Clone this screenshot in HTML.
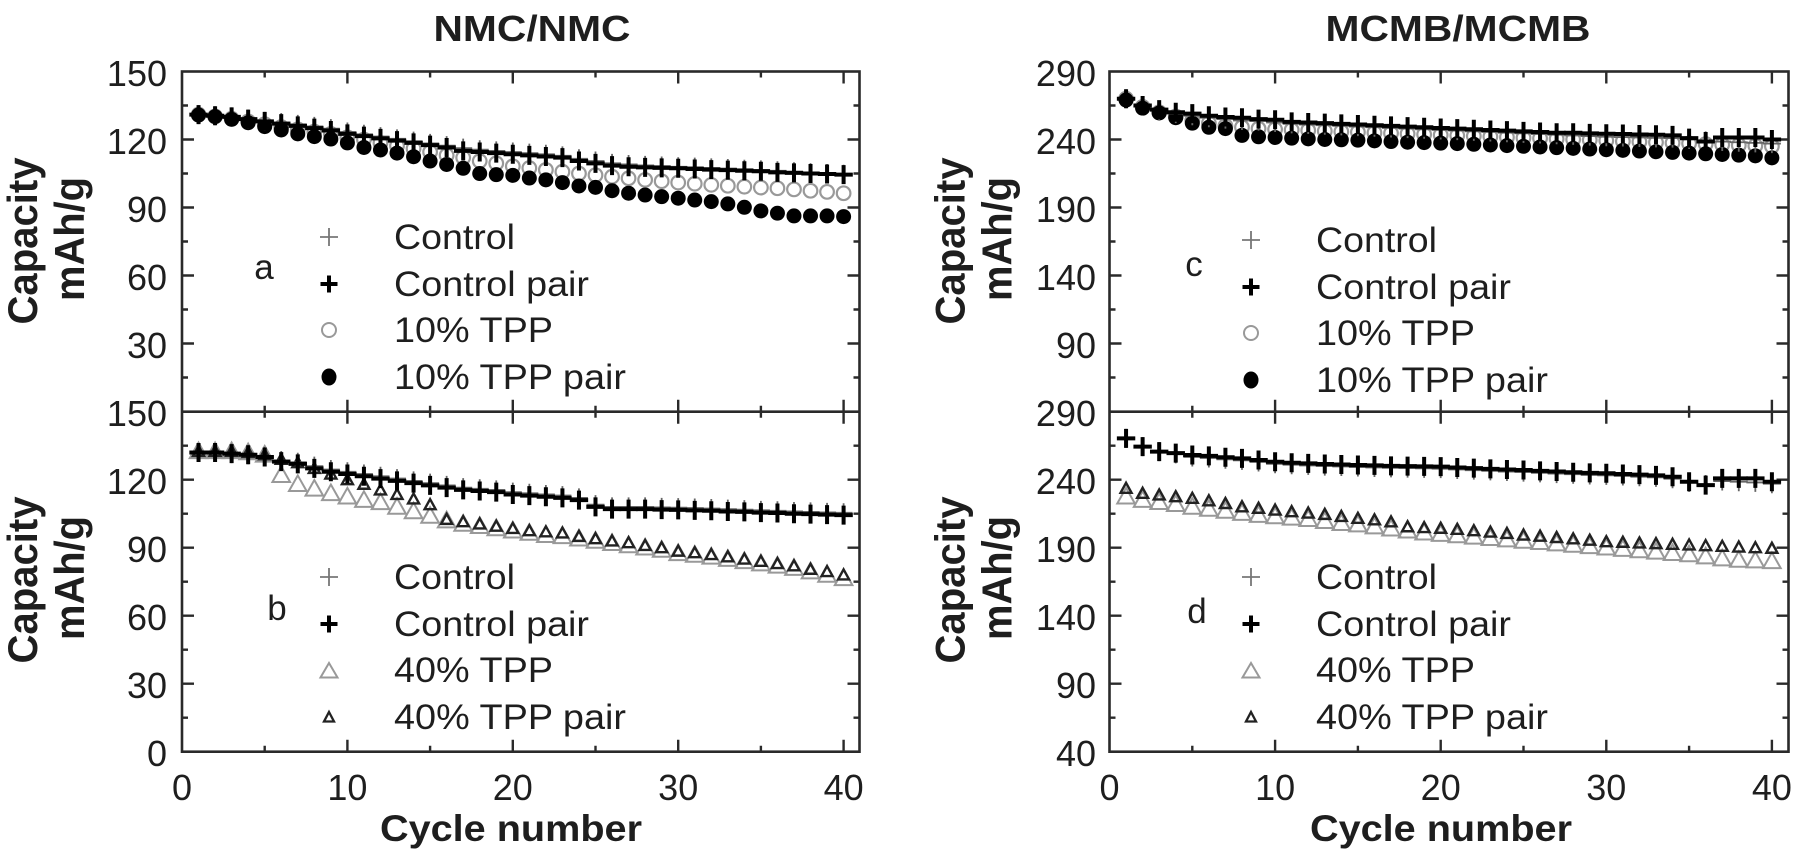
<!DOCTYPE html>
<html>
<head>
<meta charset="utf-8">
<style>
html,body{margin:0;padding:0;background:#fff;}
svg{display:block;}
text{font-family:"Liberation Sans",Arial,sans-serif;fill:#1e1e1e;}
</style>
</head>
<body>
<svg width="1800" height="854" viewBox="0 0 1800 854" xmlns="http://www.w3.org/2000/svg">
<defs>
  <!-- Left panels: sx=16.54, sy=2.267 -->
  <marker id="pbL" viewBox="0 0 20 20" refX="10" refY="10" markerUnits="userSpaceOnUse" markerWidth="1.2092" markerHeight="8.822" preserveAspectRatio="none" overflow="visible"><path d="M0.8 10H19.2M10 0.5V19.5" stroke="#000" stroke-width="4" fill="none"/></marker>
  <marker id="ptL" viewBox="0 0 20 20" refX="10" refY="10" markerUnits="userSpaceOnUse" markerWidth="1.2092" markerHeight="8.822" preserveAspectRatio="none" overflow="visible"><path d="M1 10H19M10 0.5V19.5" stroke="#666" stroke-width="1.8" fill="none"/></marker>
  <marker id="coL" viewBox="0 0 20 20" refX="10" refY="10" markerUnits="userSpaceOnUse" markerWidth="1.2092" markerHeight="8.822" preserveAspectRatio="none" overflow="visible"><circle cx="10" cy="10" r="6.8" stroke="#999" stroke-width="2.2" fill="none"/></marker>
  <marker id="cfL" viewBox="0 0 20 20" refX="10" refY="10" markerUnits="userSpaceOnUse" markerWidth="1.2092" markerHeight="8.822" preserveAspectRatio="none" overflow="visible"><circle cx="10" cy="10" r="7.5" fill="#000"/></marker>
  <marker id="toL" viewBox="0 0 20 20" refX="10" refY="10" markerUnits="userSpaceOnUse" markerWidth="1.2092" markerHeight="8.822" preserveAspectRatio="none" overflow="visible"><polygon points="10,1.2 18.8,16.8 1.2,16.8" stroke="#999" stroke-width="2" fill="none"/></marker>
  <marker id="tpL" viewBox="0 0 20 20" refX="10" refY="10" markerUnits="userSpaceOnUse" markerWidth="1.2092" markerHeight="8.822" preserveAspectRatio="none" overflow="visible"><polygon points="10,4.5 15.5,14.5 4.5,14.5" stroke="#222" stroke-width="2.4" fill="none"/></marker>
  <!-- Right panels: sx=16.56, sy=1.36 -->
  <marker id="pbR" viewBox="0 0 20 20" refX="10" refY="10" markerUnits="userSpaceOnUse" markerWidth="1.2077" markerHeight="14.706" preserveAspectRatio="none" overflow="visible"><path d="M0.8 10H19.2M10 0.5V19.5" stroke="#000" stroke-width="4" fill="none"/></marker>
  <marker id="ptR" viewBox="0 0 20 20" refX="10" refY="10" markerUnits="userSpaceOnUse" markerWidth="1.2077" markerHeight="14.706" preserveAspectRatio="none" overflow="visible"><path d="M1 10H19M10 0.5V19.5" stroke="#666" stroke-width="1.8" fill="none"/></marker>
  <marker id="coR" viewBox="0 0 20 20" refX="10" refY="10" markerUnits="userSpaceOnUse" markerWidth="1.2077" markerHeight="14.706" preserveAspectRatio="none" overflow="visible"><circle cx="10" cy="10" r="6.8" stroke="#999" stroke-width="2.2" fill="none"/></marker>
  <marker id="cfR" viewBox="0 0 20 20" refX="10" refY="10" markerUnits="userSpaceOnUse" markerWidth="1.2077" markerHeight="14.706" preserveAspectRatio="none" overflow="visible"><circle cx="10" cy="10" r="7.5" fill="#000"/></marker>
  <marker id="toR" viewBox="0 0 20 20" refX="10" refY="10" markerUnits="userSpaceOnUse" markerWidth="1.2077" markerHeight="14.706" preserveAspectRatio="none" overflow="visible"><polygon points="10,1.2 18.8,16.8 1.2,16.8" stroke="#999" stroke-width="2" fill="none"/></marker>
  <marker id="tpR" viewBox="0 0 20 20" refX="10" refY="10" markerUnits="userSpaceOnUse" markerWidth="1.2077" markerHeight="14.706" preserveAspectRatio="none" overflow="visible"><polygon points="10,4.5 15.5,14.5 4.5,14.5" stroke="#222" stroke-width="2.4" fill="none"/></marker>
</defs>

<rect x="0" y="0" width="1800" height="854" fill="#fff"/>

<!-- Titles -->
<text x="532" y="41" text-anchor="middle" font-weight="bold" font-size="36" textLength="197" lengthAdjust="spacingAndGlyphs">NMC/NMC</text>
<text x="1458" y="41" text-anchor="middle" font-weight="bold" font-size="36" textLength="265" lengthAdjust="spacingAndGlyphs">MCMB/MCMB</text>

<!-- Y axis titles -->
<text transform="translate(37,241) rotate(-90)" text-anchor="middle" font-weight="bold" font-size="42" textLength="167" lengthAdjust="spacingAndGlyphs">Capacity</text>
<text transform="translate(84,239) rotate(-90)" text-anchor="middle" font-weight="bold" font-size="42" textLength="124" lengthAdjust="spacingAndGlyphs">mAh/g</text>
<text transform="translate(37,580) rotate(-90)" text-anchor="middle" font-weight="bold" font-size="42" textLength="167" lengthAdjust="spacingAndGlyphs">Capacity</text>
<text transform="translate(84,578) rotate(-90)" text-anchor="middle" font-weight="bold" font-size="42" textLength="124" lengthAdjust="spacingAndGlyphs">mAh/g</text>
<text transform="translate(964.5,241) rotate(-90)" text-anchor="middle" font-weight="bold" font-size="42" textLength="167" lengthAdjust="spacingAndGlyphs">Capacity</text>
<text transform="translate(1011.5,239) rotate(-90)" text-anchor="middle" font-weight="bold" font-size="42" textLength="124" lengthAdjust="spacingAndGlyphs">mAh/g</text>
<text transform="translate(964.5,580) rotate(-90)" text-anchor="middle" font-weight="bold" font-size="42" textLength="167" lengthAdjust="spacingAndGlyphs">Capacity</text>
<text transform="translate(1011.5,578) rotate(-90)" text-anchor="middle" font-weight="bold" font-size="42" textLength="124" lengthAdjust="spacingAndGlyphs">mAh/g</text>

<!-- X axis titles -->
<text x="511" y="841" text-anchor="middle" font-weight="bold" font-size="37" textLength="262" lengthAdjust="spacingAndGlyphs">Cycle number</text>
<text x="1441" y="841" text-anchor="middle" font-weight="bold" font-size="37" textLength="262" lengthAdjust="spacingAndGlyphs">Cycle number</text>

<!-- Y tick labels left -->
<g font-size="36" text-anchor="end">
  <text x="167" y="86">150</text>
  <text x="167" y="154">120</text>
  <text x="167" y="222">90</text>
  <text x="167" y="290">60</text>
  <text x="167" y="358">30</text>
  <text x="167" y="426">150</text>
  <text x="167" y="494">120</text>
  <text x="167" y="562">90</text>
  <text x="167" y="630">60</text>
  <text x="167" y="698">30</text>
  <text x="167" y="766">0</text>
</g>
<!-- Y tick labels right -->
<g font-size="36" text-anchor="end">
  <text x="1096" y="86">290</text>
  <text x="1096" y="154">240</text>
  <text x="1096" y="222">190</text>
  <text x="1096" y="290">140</text>
  <text x="1096" y="358">90</text>
  <text x="1096" y="426">290</text>
  <text x="1096" y="494">240</text>
  <text x="1096" y="562">190</text>
  <text x="1096" y="630">140</text>
  <text x="1096" y="698">90</text>
  <text x="1096" y="766">40</text>
</g>
<!-- X tick labels -->
<g font-size="36" text-anchor="middle">
  <text x="182" y="800">0</text>
  <text x="347.4" y="800">10</text>
  <text x="512.8" y="800">20</text>
  <text x="678.2" y="800">30</text>
  <text x="843.6" y="800">40</text>
  <text x="1109.5" y="800">0</text>
  <text x="1275.1" y="800">10</text>
  <text x="1440.7" y="800">20</text>
  <text x="1606.3" y="800">30</text>
  <text x="1771.9" y="800">40</text>
</g>

<!-- Frames -->
<g stroke="#2a2a2a" stroke-width="2.6" fill="none">
  <rect x="182" y="71.5" width="677.5" height="680.2"/>
  <line x1="182" y1="411.7" x2="859.5" y2="411.7"/>
  <rect x="1109.5" y="71.5" width="679" height="680.2"/>
  <line x1="1109.5" y1="411.7" x2="1788.5" y2="411.7"/>
</g>

<!-- Ticks -->
<g stroke="#2a2a2a" stroke-width="2.4" fill="none">
  <path d="M264.7 71.5v6M264.7 405.7v12M264.7 751.7v-6
           M430.1 71.5v6M430.1 405.7v12M430.1 751.7v-6
           M595.5 71.5v6M595.5 405.7v12M595.5 751.7v-6
           M760.9 71.5v6M760.9 405.7v12M760.9 751.7v-6
           M347.4 71.5v12M347.4 399.7v24M347.4 751.7v-12
           M512.8 71.5v12M512.8 399.7v24M512.8 751.7v-12
           M678.2 71.5v12M678.2 399.7v24M678.2 751.7v-12
           M843.6 71.5v12M843.6 399.7v24M843.6 751.7v-12"/>
  <path d="M1192.3 71.5v6M1192.3 405.7v12M1192.3 751.7v-6
           M1357.9 71.5v6M1357.9 405.7v12M1357.9 751.7v-6
           M1523.5 71.5v6M1523.5 405.7v12M1523.5 751.7v-6
           M1689.1 71.5v6M1689.1 405.7v12M1689.1 751.7v-6
           M1275.1 71.5v12M1275.1 399.7v24M1275.1 751.7v-12
           M1440.7 71.5v12M1440.7 399.7v24M1440.7 751.7v-12
           M1606.3 71.5v12M1606.3 399.7v24M1606.3 751.7v-12
           M1771.9 71.5v12M1771.9 399.7v24M1771.9 751.7v-12"/>
  <path d="M182 139.5h12M182 207.5h12M182 275.5h12M182 343.5h12
           M182 105.5h6M182 173.5h6M182 241.5h6M182 309.5h6M182 377.5h6
           M182 479.7h12M182 547.7h12M182 615.7h12M182 683.7h12
           M182 445.7h6M182 513.7h6M182 581.7h6M182 649.7h6M182 717.7h6
           M859.5 139.5h-12M859.5 207.5h-12M859.5 275.5h-12M859.5 343.5h-12
           M859.5 105.5h-6M859.5 173.5h-6M859.5 241.5h-6M859.5 309.5h-6M859.5 377.5h-6
           M859.5 479.7h-12M859.5 547.7h-12M859.5 615.7h-12M859.5 683.7h-12
           M859.5 445.7h-6M859.5 513.7h-6M859.5 581.7h-6M859.5 649.7h-6M859.5 717.7h-6"/>
  <path d="M1109.5 139.5h12M1109.5 207.5h12M1109.5 275.5h12M1109.5 343.5h12
           M1109.5 105.5h6M1109.5 173.5h6M1109.5 241.5h6M1109.5 309.5h6M1109.5 377.5h6
           M1109.5 479.7h12M1109.5 547.7h12M1109.5 615.7h12M1109.5 683.7h12
           M1109.5 445.7h6M1109.5 513.7h6M1109.5 581.7h6M1109.5 649.7h6M1109.5 717.7h6
           M1788.5 139.5h-12M1788.5 207.5h-12M1788.5 275.5h-12M1788.5 343.5h-12
           M1788.5 105.5h-6M1788.5 173.5h-6M1788.5 241.5h-6M1788.5 309.5h-6M1788.5 377.5h-6
           M1788.5 479.7h-12M1788.5 547.7h-12M1788.5 615.7h-12M1788.5 683.7h-12
           M1788.5 445.7h-6M1788.5 513.7h-6M1788.5 581.7h-6M1788.5 649.7h-6M1788.5 717.7h-6"/>
</g>

<!-- Panel a data -->
<g transform="translate(182,71.5) scale(16.54,2.267)" fill="none" stroke="none">
  <polyline marker-start="url(#coL)" marker-mid="url(#coL)" marker-end="url(#coL)" points="1,19 2,19.8 3,20.8 4,22 5,23.2 6,24.5 7,25.5 8,26.5 9,27.5 10,29 11,30 12,31.5 13,32.8 14,34 15,35.5 16,37 17,38 18,39.5 19,40.5 20,41.8 21,42.6 22,43.4 23,44.2 24,45 25,45.7 26,46.4 27,47.1 28,47.8 29,48.4 30,49 31,49.5 32,50 33,50.4 34,50.8 35,51.2 36,51.5 37,52 38,52.6 39,53.1 40,53.7"/>
  <polyline marker-start="url(#cfL)" marker-mid="url(#cfL)" marker-end="url(#cfL)" points="1,19.2 2,19.9 3,21.1 4,22.6 5,24.3 6,25.8 7,27.5 8,28.7 9,29.8 10,31.5 11,33.5 12,34.6 13,36 14,37.6 15,39.5 16,41 17,42.7 18,45 19,45.5 20,45.8 21,47 22,47.8 23,49 24,50.5 25,51.1 26,52.6 27,53.7 28,54.5 29,55.2 30,55.9 31,56.7 32,57.4 33,58.4 34,59.9 35,61.5 36,62.5 37,63.7 38,63.7 39,63.7 40,64"/>
  <polyline marker-start="url(#ptL)" marker-mid="url(#ptL)" marker-end="url(#ptL)" points="1,19 2,19.5 3,20 4,21 5,22 6,22.5 7,23.3 8,24.2 9,25.2 10,26.7 11,27.7 12,28.7 13,29.7 14,30.7 15,31.7 16,32.7 17,33.8 18,34.5 19,35 20,35.5 21,36 22,36.5 23,37.2 24,38.5 25,39.5 26,40.5 27,41 28,41.4 29,41.7 30,42 31,42.2 32,42.5 33,42.8 34,43.1 35,43.4 36,43.8 37,44.2 38,44.6 39,45 40,45.3"/>
  <polyline marker-start="url(#pbL)" marker-mid="url(#pbL)" marker-end="url(#pbL)" points="1,19 2,19.5 3,20 4,21 5,22 6,23 7,24 8,25 9,26 10,27.5 11,28.5 12,29.5 13,30.5 14,31.5 15,32.5 16,33.5 17,35 18,35.5 19,36 20,36.5 21,37 22,37.5 23,38 24,39.5 25,40.5 26,41.5 27,42 28,42.3 29,42.5 30,42.7 31,43 32,43.3 33,43.5 34,43.8 35,44 36,44.5 37,44.7 38,45 39,45.2 40,45.5"/>
</g>

<!-- Panel b data -->
<g transform="translate(182,411.7) scale(16.54,2.267)" fill="none" stroke="none">
  <polyline marker-start="url(#toL)" marker-mid="url(#toL)" marker-end="url(#toL)" points="1,17.5 2,17.5 3,17.5 4,18 5,19 6,28 7,32 8,34 9,36 10,37.5 11,39 12,40 13,42 14,44 15,46 16,48 17,49.5 18,50.5 19,51.5 20,52.5 21,53.5 22,54.5 23,55 24,56 25,57 26,58 27,59 28,60 29,61 30,62.5 31,63.2 32,64 33,65 34,66 35,67 36,68 37,69 38,70.5 39,72 40,73.5"/>
  <polyline marker-start="url(#tpL)" marker-mid="url(#tpL)" marker-end="url(#tpL)" points="1,17.5 2,17.5 3,17.5 4,18 5,19 6,21 7,22.5 8,25 9,27.5 10,30 11,32 12,34.5 13,36.5 14,38.5 15,41 16,47.5 17,48.5 18,49.5 19,50.5 20,51.5 21,52.5 22,53 23,53.5 24,55 25,56 26,57 27,57.8 28,59 29,60 30,61.5 31,62.2 32,63 33,64 34,65 35,66 36,67 37,68 38,69.5 39,70.5 40,72"/>
  <polyline marker-start="url(#ptL)" marker-mid="url(#ptL)" marker-end="url(#ptL)" points="1,18 2,18 3,18.5 4,19 5,20 6,21.5 7,22.3 8,24 9,25.5 10,26.5 11,27.5 12,28.5 13,29.5 14,30.5 15,31.5 16,32.5 17,33.5 18,34 19,34.5 20,35.5 21,36 22,36.5 23,37 24,38 25,41 26,42 27,42 28,42 29,42.2 30,42.3 31,42.5 32,42.7 33,43 34,43.2 35,43.5 36,43.7 37,44 38,44.2 39,44.4 40,44.6"/>
  <polyline marker-start="url(#pbL)" marker-mid="url(#pbL)" marker-end="url(#pbL)" points="1,18 2,18 3,18.5 4,19 5,20 6,22 7,23 8,25 9,26.5 10,27.5 11,28.5 12,29.5 13,30.5 14,31.5 15,32.5 16,33.5 17,34.5 18,35 19,35.5 20,36.5 21,37 22,37.5 23,38 24,39 25,42 26,43 27,43 28,43 29,43.2 30,43.3 31,43.5 32,43.7 33,44 34,44.2 35,44.5 36,44.7 37,45 38,45.2 39,45.4 40,45.6"/>
</g>

<!-- Panel c data -->
<g transform="translate(1109.5,71.5) scale(16.56,1.36)" fill="none" stroke="none">
  <polyline marker-start="url(#coR)" marker-mid="url(#coR)" marker-end="url(#coR)" points="1,20 2,26 3,30 4,33 5,36 6,38 7,40 8,41 9,42 10,42.5 11,42.9 12,43.3 13,43.8 14,44.2 15,44.6 16,45 17,45.4 18,45.8 19,46.3 20,46.7 21,47.1 22,47.5 23,47.9 24,48.3 25,48.8 26,49.2 27,49.6 28,50 29,50.4 30,50.8 31,51.3 32,51.7 33,52.1 34,52.5 35,52.9 36,53.3 37,53.8 38,54.2 39,54.6 40,55"/>
  <polyline marker-start="url(#cfR)" marker-mid="url(#cfR)" marker-end="url(#cfR)" points="1,21 2,27 3,30.5 4,34 5,38 6,41 7,42 8,47 9,48 10,48.5 11,49 12,49.5 13,50 14,50.2 15,50.5 16,51 17,51.5 18,52 19,52.3 20,52.7 21,53 22,53.5 23,54 24,54.5 25,55 26,55.5 27,56 28,56.5 29,57 30,57.5 31,58 32,58.5 33,59 34,59.5 35,60 36,60.5 37,61 38,61.5 39,62 40,63.5"/>
  <polyline marker-start="url(#ptR)" marker-mid="url(#ptR)" marker-end="url(#ptR)" points="1,20 2,25.5 3,28.5 4,31 5,32.5 6,34 7,35 8,36 9,36.5 10,37.5 11,38.5 12,39 13,39.5 14,40 15,40.5 16,41 17,41.5 18,42 19,42.5 20,43 21,43.5 22,44 23,44.5 24,45 25,45.5 26,46 27,46.5 28,47 29,47.5 30,48 31,48.2 32,48.5 33,48.8 34,49 35,50 36,51 37,51.5 38,52 39,52.5 40,53"/>
  <polyline marker-start="url(#pbR)" marker-mid="url(#pbR)" marker-end="url(#pbR)" points="1,20 2,25 3,28 4,30 5,31 6,32.5 7,33.5 8,34 9,35 10,35.5 11,37 12,37.5 13,38 14,38.5 15,39 16,39.5 17,40 18,40.5 19,41 20,41.5 21,42 22,42.5 23,43 24,43.5 25,44 26,44.5 27,45 28,45 29,45.5 30,45.8 31,46 32,46.3 33,46.5 34,47 35,49 36,51.5 37,48.5 38,48.5 39,48.5 40,50"/>
</g>

<!-- Panel d data -->
<g transform="translate(1109.5,411.7) scale(16.56,1.36)" fill="none" stroke="none">
  <polyline marker-start="url(#toR)" marker-mid="url(#toR)" marker-end="url(#toR)" points="1,62.5 2,65 3,66.5 4,68 5,70 6,71.5 7,73 8,74.5 9,76 10,77 11,78 12,79 13,80.5 14,82 15,83 16,84.5 17,86 18,87.5 19,89 20,90 21,91 22,92 23,93 24,94 25,95 26,96 27,97 28,98 29,99 30,100 31,101 32,102 33,103 34,104 35,105 36,106.5 37,108 38,109 39,109.5 40,110"/>
  <polyline marker-start="url(#tpR)" marker-mid="url(#tpR)" marker-end="url(#tpR)" points="1,56.3 2,60 3,61.2 4,62.5 5,63.7 6,65.5 7,67.5 8,69.9 9,71 10,72.3 11,73.5 12,74.5 13,75.5 14,77 15,78.4 16,79.5 17,81 18,84.6 19,85.2 20,85.7 21,86.5 22,87.5 23,88.5 24,89.5 25,90.7 26,91.5 27,92.5 28,93.5 29,94.5 30,95.6 31,96 32,96.5 33,97 34,97.5 35,98 36,98.5 37,99 38,99.5 39,100 40,100.4"/>
  <polyline marker-start="url(#ptR)" marker-mid="url(#ptR)" marker-end="url(#ptR)" points="1,19.6 2,25.7 3,29.4 4,31 5,33.3 6,34 7,35 8,35.8 9,37 10,38.3 11,39 12,39.5 13,40 14,40.3 15,40.7 16,41 17,41.3 18,41.5 19,41.7 20,41.9 21,42.5 22,43 23,43.5 24,44 25,44.4 26,45 27,45.5 28,46 29,46.5 30,46.8 31,47.3 32,47.8 33,48.3 34,49.3 35,52 36,53.5 37,51 38,51.5 39,52 40,53"/>
  <polyline marker-start="url(#pbR)" marker-mid="url(#pbR)" marker-end="url(#pbR)" points="1,19.6 2,25.7 3,29.4 4,30.5 5,31.8 6,32.5 7,33.5 8,34.3 9,35.5 10,36.8 11,37.5 12,38 13,38.5 14,38.8 15,39.2 16,39.5 17,39.8 18,40 19,40.2 20,40.4 21,41 22,41.5 23,42 24,42.5 25,42.9 26,43.5 27,44 28,44.5 29,45 30,45.3 31,45.8 32,46.3 33,46.8 34,47.8 35,51.5 36,54 37,49 38,49 39,49 40,51.5"/>
</g>

<!-- Legends: panel a -->
<g>
  <text x="264" y="279" text-anchor="middle" font-size="35">a</text>
  <path d="M320 237h18M329 228v18" stroke="#777" stroke-width="1.8" fill="none"/>
  <path d="M320.5 284h17M329 275.5v17" stroke="#000" stroke-width="4" fill="none"/>
  <circle cx="329" cy="330" r="7" stroke="#999" stroke-width="2" fill="none"/>
  <ellipse cx="329" cy="377" rx="7.5" ry="8.5" fill="#000"/>
  <text x="394" y="249" font-size="35" textLength="121" lengthAdjust="spacingAndGlyphs">Control</text>
  <text x="394" y="296" font-size="35" textLength="195" lengthAdjust="spacingAndGlyphs">Control pair</text>
  <text x="394" y="342" font-size="35" textLength="159" lengthAdjust="spacingAndGlyphs">10% TPP</text>
  <text x="394" y="389" font-size="35" textLength="232" lengthAdjust="spacingAndGlyphs">10% TPP pair</text>
</g>
<!-- Legends: panel b -->
<g>
  <text x="277" y="620" text-anchor="middle" font-size="35">b</text>
  <path d="M320 577h18M329 568v18" stroke="#777" stroke-width="1.8" fill="none"/>
  <path d="M320.5 624h17M329 615.5v17" stroke="#000" stroke-width="4" fill="none"/>
  <polygon points="329,663 337.5,677.5 320.5,677.5" stroke="#999" stroke-width="2" fill="none"/>
  <polygon points="329,712 334,721.5 324,721.5" stroke="#222" stroke-width="2.3" fill="none"/>
  <text x="394" y="589" font-size="35" textLength="121" lengthAdjust="spacingAndGlyphs">Control</text>
  <text x="394" y="636" font-size="35" textLength="195" lengthAdjust="spacingAndGlyphs">Control pair</text>
  <text x="394" y="682" font-size="35" textLength="159" lengthAdjust="spacingAndGlyphs">40% TPP</text>
  <text x="394" y="729" font-size="35" textLength="232" lengthAdjust="spacingAndGlyphs">40% TPP pair</text>
</g>
<!-- Legends: panel c -->
<g>
  <text x="1194" y="276" text-anchor="middle" font-size="35">c</text>
  <path d="M1242 240h18M1251 231v18" stroke="#777" stroke-width="1.8" fill="none"/>
  <path d="M1242.5 287h17M1251 278.5v17" stroke="#000" stroke-width="4" fill="none"/>
  <circle cx="1251" cy="333" r="7" stroke="#999" stroke-width="2" fill="none"/>
  <ellipse cx="1251" cy="380" rx="7.5" ry="8.5" fill="#000"/>
  <text x="1316" y="252" font-size="35" textLength="121" lengthAdjust="spacingAndGlyphs">Control</text>
  <text x="1316" y="299" font-size="35" textLength="195" lengthAdjust="spacingAndGlyphs">Control pair</text>
  <text x="1316" y="345" font-size="35" textLength="159" lengthAdjust="spacingAndGlyphs">10% TPP</text>
  <text x="1316" y="392" font-size="35" textLength="232" lengthAdjust="spacingAndGlyphs">10% TPP pair</text>
</g>
<!-- Legends: panel d -->
<g>
  <text x="1197" y="623" text-anchor="middle" font-size="35">d</text>
  <path d="M1242 577h18M1251 568v18" stroke="#777" stroke-width="1.8" fill="none"/>
  <path d="M1242.5 624h17M1251 615.5v17" stroke="#000" stroke-width="4" fill="none"/>
  <polygon points="1251,663 1259.5,677.5 1242.5,677.5" stroke="#999" stroke-width="2" fill="none"/>
  <polygon points="1251,712 1256,721.5 1246,721.5" stroke="#222" stroke-width="2.3" fill="none"/>
  <text x="1316" y="589" font-size="35" textLength="121" lengthAdjust="spacingAndGlyphs">Control</text>
  <text x="1316" y="636" font-size="35" textLength="195" lengthAdjust="spacingAndGlyphs">Control pair</text>
  <text x="1316" y="682" font-size="35" textLength="159" lengthAdjust="spacingAndGlyphs">40% TPP</text>
  <text x="1316" y="729" font-size="35" textLength="232" lengthAdjust="spacingAndGlyphs">40% TPP pair</text>
</g>
</svg>
</body>
</html>
